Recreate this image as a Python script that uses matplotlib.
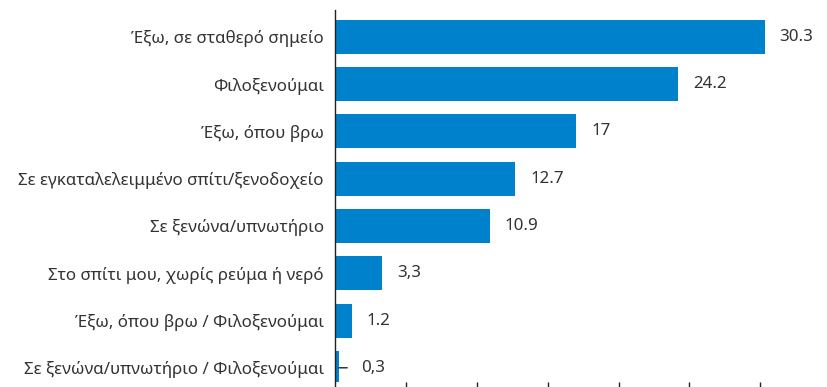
import matplotlib
matplotlib.use("Agg")
import matplotlib.pyplot as plt

# Categories (top to bottom) and their percentages
categories = [
    "Έξω, σε σταθερό σημείο",
    "Φιλοξενούμαι",
    "Έξω, όπου βρω",
    "Σε εγκαταλελειμμένο σπίτι/ξενοδοχείο",
    "Σε ξενώνα/υπνωτήριο",
    "Στο σπίτι μου, χωρίς ρεύμα ή νερό",
    "Έξω, όπου βρω / Φιλοξενούμαι",
    "Σε ξενώνα/υπνωτήριο / Φιλοξενούμαι",
]
values = [30.3, 24.2, 17, 12.7, 10.9, 3.3, 1.2, 0.3]
value_labels = ["30.3", "24.2", "17", "12.7", "10.9", "3,3", "1.2", "0,3"]

plt.rcParams["font.family"] = ["Noto Sans", "DejaVu Sans"]
plt.rcParams["font.weight"] = "light"
text_color = "#333333"
bar_color = "#0081CC"

fig = plt.figure(figsize=(8.27, 3.87), dpi=100)
ax = fig.add_axes([0.405, 0.0142, 0.583, 0.960])

ypos = list(range(len(categories)))
ax.barh(ypos, values, height=0.72, color=bar_color)

ax.set_xlim(0, 34)
ax.set_ylim(7.29, -0.57)
ax.set_yticks(ypos)
ax.set_yticklabels(categories, fontsize=12.2, color=text_color)
ax.set_xticks(range(0, 35, 5))

ax.tick_params(axis="y", length=0, pad=8)
ax.tick_params(axis="x", length=7, width=1, color="#222222", labelbottom=False)

for side in ["top", "right", "bottom"]:
    ax.spines[side].set_visible(False)
ax.spines["left"].set_color("#222222")
ax.spines["left"].set_linewidth(1)

# value labels to the right of each bar
for i, (v, lab) in enumerate(zip(values, value_labels)):
    offset = 15
    if v < 1:
        # short leader line for the tiny bar
        ax.annotate("", xy=(v, i), xytext=(8, 0), textcoords="offset pixels",
                    arrowprops=dict(arrowstyle="-", color="#222222", lw=1,
                                    shrinkA=0, shrinkB=0))
        offset = 22
    ax.annotate(lab, xy=(v, i), xytext=(offset, 0), textcoords="offset pixels",
                ha="left", va="center", fontsize=12.2, color=text_color)

fig.savefig("out.png", dpi=100)
